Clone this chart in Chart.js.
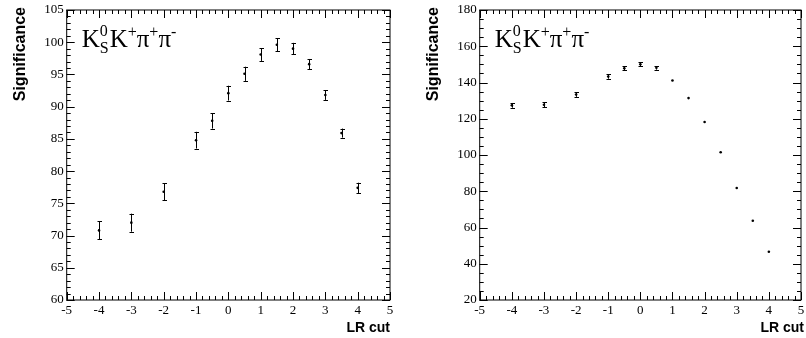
<!DOCTYPE html>
<html>
<head>
<meta charset="utf-8">
<script src="https://cdn.jsdelivr.net/npm/chart.js@4"></script>
<style>
  html, body { margin: 0; padding: 0; background: #fff; }
  #wrap { position: relative; width: 806px; height: 338px; }
  .pane { position: absolute; top: 0; width: 403px; height: 338px; }
</style>
</head>
<body>
<div id="wrap">
  <div class="pane" style="left:0"><canvas id="sigA"></canvas></div>
  <div class="pane" style="left:403px"><canvas id="sigB"></canvas></div>
</div>
<script>
// LR cut values scanned
const lrCuts = [-4, -3, -2, -1, -0.5, 0, 0.5, 1, 1.5, 2, 2.5, 3, 3.5, 4];

// left panel: significance and its error
const sigLeft = [70.8, 72.0, 76.8, 84.8, 87.8, 92.1, 95.1, 98.1, 99.6, 99.0, 96.6, 91.8, 85.9, 77.4];
const errLeft = [1.4, 1.4, 1.3, 1.3, 1.2, 1.15, 1.1, 1.0, 1.0, 0.9, 0.8, 0.75, 0.7, 0.8];

// right panel
const sigRight = [127.4, 127.7, 133.4, 143.3, 147.9, 150.1, 148.1, 141.1, 131.4, 118.2, 101.5, 81.8, 63.7, 46.6];
const errRight = [1.3, 1.4, 1.3, 1.2, 1.2, 1.1, 1.0, 0.4, 0.3, 0.3, 0.3, 0.3, 0.3, 0.3];

const xTicks = { min: -5, max: 5, step: 1, minor: 0.2 };

// ROOT-like frame with inward major/minor ticks on all four sides
const framePlugin = {
  id: 'frame',
  afterDatasetsDraw(chart, args, opts) {
    const { ctx, chartArea: a, scales } = chart;
    ctx.save();
    ctx.strokeStyle = '#000';
    ctx.lineWidth = 1;
    ctx.strokeRect(a.left, a.top, a.right - a.left, a.bottom - a.top);
    const drawTicks = (scale, step, len, horizontal) => {
      const n = Math.round((scale.max - scale.min) / step);
      ctx.beginPath();
      for (let i = 0; i <= n; i++) {
        const v = scale.min + i * step;
        const p = Math.round(scale.getPixelForValue(v)) + 0.5;
        if (horizontal) {
          ctx.moveTo(p, a.bottom); ctx.lineTo(p, a.bottom - len);
          ctx.moveTo(p, a.top); ctx.lineTo(p, a.top + len);
        } else {
          ctx.moveTo(a.left, p); ctx.lineTo(a.left + len, p);
          ctx.moveTo(a.right, p); ctx.lineTo(a.right - len, p);
        }
      }
      ctx.stroke();
    };
    drawTicks(scales.x, xTicks.step, 8, true);
    drawTicks(scales.x, xTicks.minor, 4, true);
    drawTicks(scales.y, opts.yMajor, 8, false);
    drawTicks(scales.y, opts.yMinor, 4, false);

    // axis titles
    ctx.fillStyle = '#000';
    ctx.textBaseline = 'alphabetic';
    ctx.font = 'bold 14px "Liberation Sans", Arial, sans-serif';
    ctx.textAlign = 'right';
    ctx.fillText('LR cut', a.right + opts.xTitleShift, 332);
    ctx.save();
    ctx.font = 'bold 16px "Liberation Sans", Arial, sans-serif';
    ctx.translate(a.left - 42, a.top - 3);
    ctx.rotate(-Math.PI / 2);
    ctx.textAlign = 'right';
    ctx.fillText('Significance', 0, 0);
    ctx.restore();

    // decay mode label: K_S^0 K^+ pi^+ pi^-
    const big = '25px "Liberation Serif", "Times New Roman", serif';
    const small = '16px "Liberation Serif", "Times New Roman", serif';
    let x = a.left + 15;
    const base = a.top + 37;
    ctx.textAlign = 'left';
    const put = (txt, font, dy) => {
      ctx.font = font;
      ctx.fillText(txt, x, base + dy);
      return ctx.measureText(txt).width;
    };
    x += put('K', big, 0);
    const w0 = put('0', small, -11);
    const wS = put('S', small, 6);
    x += Math.max(w0, wS) + 1;
    x += put('K', big, 0);
    x += put('+', small, -10);
    x += put('\u03c0', big, 0);
    x += put('+', small, -10);
    x += put('\u03c0', big, 0);
    put('-', small, -10);
    ctx.restore();
  }
};

// vertical error bars with short caps
const errorBarPlugin = {
  id: 'errbars',
  afterDatasetsDraw(chart) {
    const { ctx, scales } = chart;
    ctx.save();
    ctx.strokeStyle = '#000';
    ctx.lineWidth = 1;
    chart.data.datasets.forEach(ds => {
      ds.data.forEach(pt => {
        const px = Math.round(scales.x.getPixelForValue(pt.x)) + 0.5;
        const top = scales.y.getPixelForValue(pt.y + pt.e);
        const bot = scales.y.getPixelForValue(pt.y - pt.e);
        if (bot - top < 3) return;
        ctx.beginPath();
        ctx.moveTo(px, top); ctx.lineTo(px, bot);
        ctx.moveTo(px - 2, Math.round(top) + 0.5); ctx.lineTo(px + 2.5, Math.round(top) + 0.5);
        ctx.moveTo(px - 2, Math.round(bot) + 0.5); ctx.lineTo(px + 2.5, Math.round(bot) + 0.5);
        ctx.stroke();
      });
    });
    ctx.restore();
  }
};

function makeChart(id, sig, err, yMin, yMax, yMajor, yMinor, padLeft, padRight, xTitleShift) {
  const tickFont = { family: '"Liberation Serif", "Times New Roman", serif', size: 13 };
  return new Chart(document.getElementById(id), {
    type: 'scatter',
    data: {
      datasets: [{
        data: lrCuts.map((x, i) => ({ x: x, y: sig[i], e: err[i] })),
        backgroundColor: '#000',
        borderColor: '#000',
        pointRadius: 1.3,
        pointBorderWidth: 0,
        pointHoverRadius: 1.3
      }]
    },
    options: {
      responsive: false,
      animation: false,
      events: [],
      layout: { padding: { left: padLeft, right: padRight, top: 10, bottom: 0 } },
      plugins: {
        legend: { display: false },
        tooltip: { enabled: false },
        frame: { yMajor: yMajor, yMinor: yMinor, xTitleShift: xTitleShift }
      },
      scales: {
        x: {
          type: 'linear',
          min: xTicks.min,
          max: xTicks.max,
          grid: { display: false, drawTicks: false },
          border: { display: false },
          ticks: { stepSize: xTicks.step, padding: 3, color: '#000', font: tickFont, maxRotation: 0 },
          afterFit(s) { s.height = 38; s.paddingLeft = 0; s.paddingRight = 0; }
        },
        y: {
          type: 'linear',
          min: yMin,
          max: yMax,
          grid: { display: false, drawTicks: false },
          border: { display: false },
          ticks: { stepSize: yMajor, padding: 3, color: '#000', font: tickFont },
          afterFit(s) { s.width = 40; s.paddingTop = 0; s.paddingBottom = 0; }
        }
      }
    },
    plugins: [framePlugin, errorBarPlugin]
  });
}

function sizeCanvas(id) {
  const c = document.getElementById(id);
  c.width = 403; c.height = 338;
  c.style.width = '403px'; c.style.height = '338px';
}
sizeCanvas('sigA');
sizeCanvas('sigB');

makeChart('sigA', sigLeft, errLeft, 60, 105, 5, 1, 26.7, 13, 0);
makeChart('sigB', sigRight, errRight, 20, 180, 20, 5, 36.7, 5, 3);
</script>
</body>
</html>
